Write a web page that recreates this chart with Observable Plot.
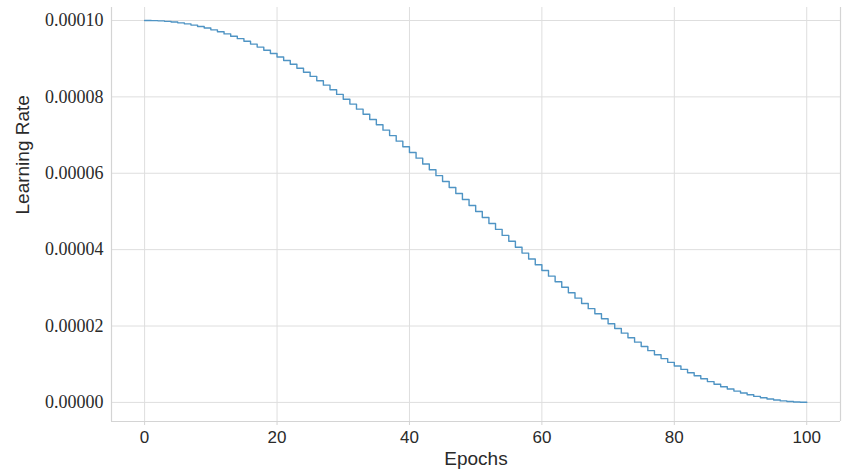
<!DOCTYPE html>
<html>
<head>
<meta charset="utf-8">
<script src="https://cdn.jsdelivr.net/npm/d3@7"></script>
<script src="https://cdn.jsdelivr.net/npm/@observablehq/plot@0.6"></script>
<style>
  html, body { margin: 0; padding: 0; background: #fff; }
  #chart { width: 842px; height: 471px; }
</style>
</head>
<body>
<div id="chart"></div>
<script>
// Epochs 0..100 and learning rate
const epochs = d3.range(0, 101);
const learningRate = [
  10.0000e-5, 9.9975e-5, 9.9901e-5, 9.9778e-5, 9.9606e-5, 9.9384e-5, 9.9114e-5, 9.8796e-5, 9.8429e-5, 9.8015e-5,
  9.7553e-5, 9.7044e-5, 9.6489e-5, 9.5888e-5, 9.5241e-5, 9.4550e-5, 9.3815e-5, 9.3037e-5, 9.2216e-5, 9.1354e-5,
  9.0451e-5, 8.9508e-5, 8.8526e-5, 8.7506e-5, 8.6448e-5, 8.5355e-5, 8.4227e-5, 8.3066e-5, 8.1871e-5, 8.0645e-5,
  7.9389e-5, 7.8104e-5, 7.6791e-5, 7.5452e-5, 7.4088e-5, 7.2700e-5, 7.1289e-5, 6.9857e-5, 6.8406e-5, 6.6937e-5,
  6.5451e-5, 6.3950e-5, 6.2434e-5, 6.0907e-5, 5.9369e-5, 5.7822e-5, 5.6267e-5, 5.4705e-5, 5.3140e-5, 5.1571e-5,
  5.0000e-5, 4.8429e-5, 4.6860e-5, 4.5295e-5, 4.3733e-5, 4.2178e-5, 4.0631e-5, 3.9093e-5, 3.7566e-5, 3.6050e-5,
  3.4549e-5, 3.3063e-5, 3.1594e-5, 3.0143e-5, 2.8711e-5, 2.7300e-5, 2.5912e-5, 2.4548e-5, 2.3209e-5, 2.1896e-5,
  2.0611e-5, 1.9355e-5, 1.8129e-5, 1.6934e-5, 1.5773e-5, 1.4645e-5, 1.3552e-5, 1.2494e-5, 1.1474e-5, 1.0492e-5,
  0.9549e-5, 0.8646e-5, 0.7784e-5, 0.6963e-5, 0.6185e-5, 0.5450e-5, 0.4759e-5, 0.4112e-5, 0.3511e-5, 0.2956e-5,
  0.2447e-5, 0.1985e-5, 0.1571e-5, 0.1204e-5, 0.0886e-5, 0.0616e-5, 0.0394e-5, 0.0222e-5, 0.0099e-5, 0.0025e-5,
  0.0000e-5
];
const xTicks = [0, 20, 40, 60, 80, 100];
const yTicks = [0, 0.00002, 0.00004, 0.00006, 0.00008, 0.00010];
const xLabel = "Epochs";
const yLabel = "Learning Rate";

const data = epochs.map((e, i) => ({epoch: e, lr: learningRate[i]}));

const xDomain = [-5, 105.1];
const yDomain = [-0.0000050, 0.0001034];
const gridColor = "#dedede";
const spineColor = "#d4d4d4";
const textColor = "#2a2a2a";
const sans = "'Liberation Sans', Arial, sans-serif";
const serif = "'Liberation Serif', 'Times New Roman', serif";

const chart = Plot.plot({
  width: 842,
  height: 471,
  marginLeft: 111,
  marginRight: 2,
  marginTop: 7,
  marginBottom: 50,
  style: {background: "#fff", overflow: "visible"},
  x: {domain: xDomain},
  y: {domain: yDomain},
  marks: [
    Plot.gridX(xTicks, {stroke: gridColor, strokeOpacity: 1, strokeWidth: 1}),
    Plot.gridY(yTicks, {stroke: gridColor, strokeOpacity: 1, strokeWidth: 1}),
    Plot.ruleY([yDomain[0]], {stroke: spineColor, strokeWidth: 1.2}),
    Plot.ruleX([xDomain[0], xDomain[1]], {stroke: spineColor, strokeWidth: 1.2}),
    Plot.axisX(xTicks, {
      tickSize: 4, tickPadding: 5, stroke: spineColor,
      fontFamily: sans, fontSize: 17,
      fill: textColor, label: null, tickFormat: d => String(d)
    }),
    Plot.axisY(yTicks, {
      tickSize: 0, tickPadding: 8,
      fontFamily: serif, fontSize: 18,
      fill: textColor, label: null, tickFormat: d => d.toFixed(5)
    }),
    Plot.line(data, {
      x: "epoch", y: "lr", curve: "step-after",
      stroke: "#4f94c4", strokeWidth: 1.4
    }),
    Plot.text([xLabel], {
      frameAnchor: "bottom", dy: 43, text: d => d, fill: textColor,
      fontFamily: sans, fontSize: 19
    }),
    Plot.text([yLabel], {
      frameAnchor: "left", dx: -89, rotate: -90, text: d => d, fill: textColor,
      fontFamily: sans, fontSize: 19
    })
  ]
});
document.getElementById("chart").appendChild(chart);
</script>
</body>
</html>
